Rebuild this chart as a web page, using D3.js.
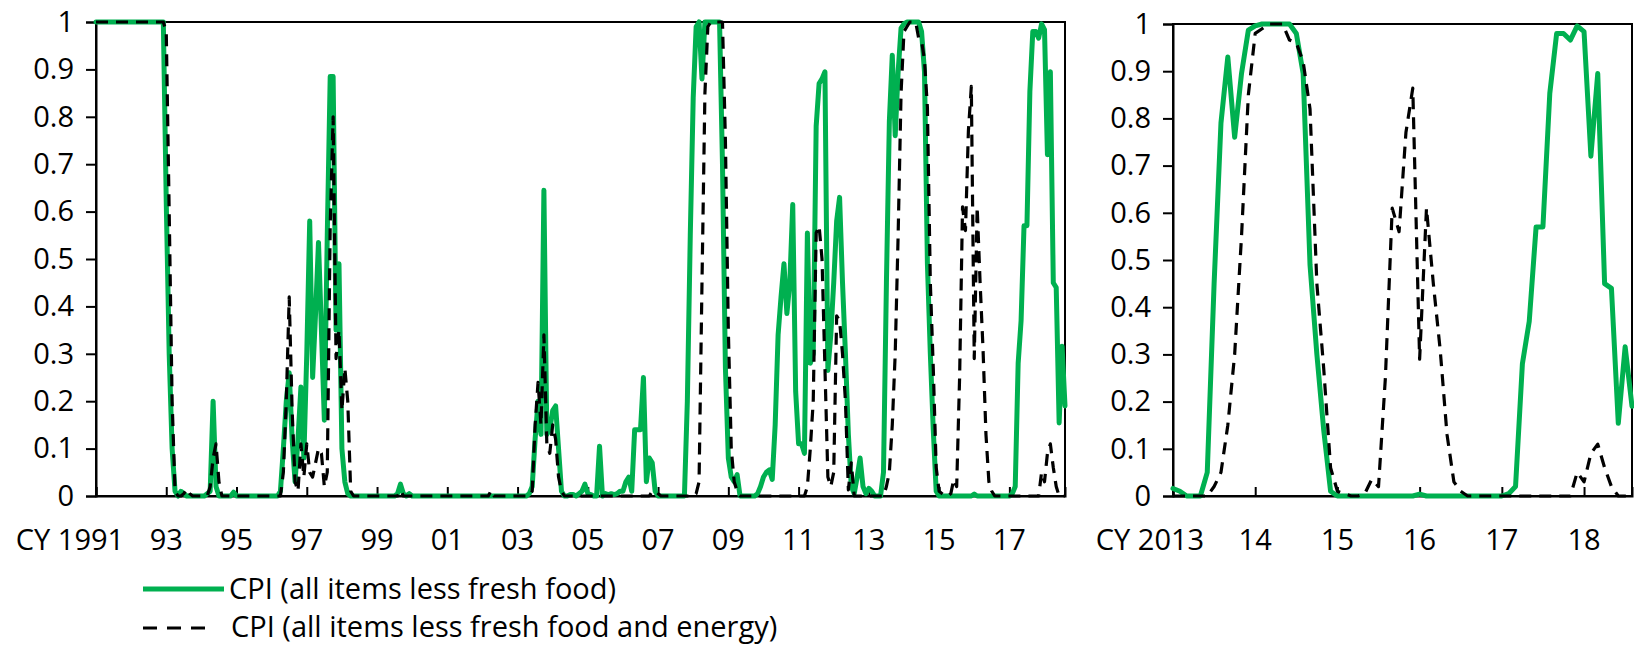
<!DOCTYPE html>
<html><head><meta charset="utf-8">
<script src="https://cdn.jsdelivr.net/npm/d3@7"></script>
<style>
body{margin:0;background:#fff}
svg text{font-family:"Open Sans","Noto Sans",sans-serif;fill:#000}
</style></head><body><svg id="c" width="1634" height="645"></svg>
<script>
// Monthly observations, January 1991 onward (index 0 = Jan 1991)
const startYear = 1991;
const lessFreshFood = [
 1,1,1,1,1,1,1,1,1,1,1,1,                                  // 1991
 1,1,1,1,1,1,1,1,1,1,1,1,                                  // 1992
 0.62,0.3,0.1,0.01,0,0.01,0.005,0,0,0,0,0,                 // 1993
 0,0,0.005,0.01,0.2,0.02,0,0,0,0,0,0.008,                  // 1994
 0,0,0,0,0,0,0,0,0,0,0,0,                                  // 1995
 0,0,0,0.01,0.1,0.2,0.26,0.12,0.03,0.12,0.23,0.08,         // 1996
 0.3,0.58,0.25,0.385,0.535,0.35,0.16,0.55,0.885,0.885,0.35,0.49, // 1997
 0.1,0.03,0.005,0,0,0,0,0,0,0,0,0,                         // 1998
 0,0,0,0,0,0,0,0.005,0.025,0.005,0,0.005,                  // 1999
 0,0,0,0,0,0,0,0,0,0,0,0,                                  // 2000
 0,0,0,0,0,0,0,0,0,0,0,0,                                  // 2001
 0,0,0,0,0,0,0,0,0,0,0,0,                                  // 2002
 0,0,0,0,0.005,0.02,0.12,0.2,0.13,0.645,0.13,0.14,         // 2003
 0.18,0.19,0.1,0.01,0,0,0.003,0.003,0,0.005,0.01,0.025,    // 2004
 0.005,0.003,0,0,0.105,0,0.005,0.003,0.005,0.003,0.005,0.01, // 2005
 0.01,0.03,0.04,0.01,0.14,0.14,0.14,0.25,0.03,0.08,0.07,0.01, // 2006
 0,0,0,0,0,0,0,0,0,0,0.2,0.55,                             // 2007
 0.84,0.99,1,0.88,1,1,1,1,1,1,0.7,0.27,                    // 2008
 0.08,0.04,0.03,0.045,0,0,0,0,0,0,0.005,0.02,              // 2009
 0.04,0.05,0.055,0.035,0.15,0.34,0.42,0.49,0.385,0.45,0.615,0.22, // 2010
 0.11,0.11,0.09,0.555,0.28,0.3,0.78,0.87,0.88,0.895,0.265,0.34,   // 2011
 0.45,0.58,0.63,0.45,0.3,0.13,0.02,0.005,0.04,0.08,0.02,0.005,    // 2012
 0.016,0.01,0,0,0,0.05,0.45,0.79,0.93,0.76,0.895,0.987,    // 2013
 0.996,1,1,1,1,1,0.98,0.895,0.49,0.3,0.14,0.01,            // 2014
 0,0,0,0,0,0,0,0,0,0,0,0,                                  // 2015
 0.004,0,0,0,0,0,0,0,0,0,0,0,                              // 2016
 0,0.005,0.02,0.28,0.37,0.57,0.57,0.853,0.98,0.98,0.966,0.996, // 2017
 0.984,0.72,0.895,0.45,0.44,0.154,0.316,0.19               // 2018
];
const lessFreshFoodEnergy = [
 1,1,1,1,1,1,1,1,1,1,1,1,                                  // 1991
 1,1,1,1,1,1,1,1,1,1,1,1,                                  // 1992
 0.98,0.6,0.2,0.01,0,0,0.005,0.015,0.005,0,0,0,            // 1993
 0,0,0,0.02,0.08,0.11,0.03,0,0,0,0,0,                      // 1994
 0,0,0,0,0,0,0,0,0,0,0,0,                                  // 1995
 0,0,0,0,0.05,0.2,0.42,0.18,0.03,0.01,0.11,0.04,           // 1996
 0.11,0.05,0.04,0.07,0.1,0.09,0.02,0.05,0.57,0.8,0.29,0.35, // 1997
 0.18,0.27,0.2,0.01,0,0,0,0,0,0,0,0,                       // 1998
 0,0,0,0,0,0,0,0,0.012,0,0,0,                              // 1999
 0,0,0,0,0,0,0,0,0,0,0,0,                                  // 2000
 0,0,0,0,0,0,0,0,0,0,0,0,                                  // 2001
 0,0,0,0.012,0,0,0,0,0,0,0,0,                              // 2002
 0,0,0,0,0,0.01,0.15,0.24,0.15,0.34,0.11,0.09,             // 2003
 0.15,0.12,0.04,0.01,0,0,0,0,0,0,0,0,                      // 2004
 0,0,0,0,0,0,0,0,0,0,0,0,                                  // 2005
 0,0,0,0,0,0,0,0,0,0,0.01,0.01,                            // 2006
 0.005,0,0,0,0,0,0,0,0,0,0,0,                              // 2007
 0,0.005,0.03,0.45,0.85,0.99,1,1,1,1,1,0.75,               // 2008
 0.35,0.1,0.03,0.01,0,0,0,0,0,0,0,0,                       // 2009
 0,0,0,0,0,0,0,0,0,0,0,0,                                  // 2010
 0,0,0,0.02,0.1,0.2,0.555,0.57,0.5,0.27,0.04,0.02,         // 2011
 0.05,0.38,0.37,0.3,0.2,0.013,0.07,0,0,0,0,0,              // 2012
 0,0,0,0,0,0,0.02,0.05,0.15,0.3,0.55,0.85,                 // 2013
 0.98,0.99,1,1,1,0.966,0.96,0.92,0.82,0.45,0.27,0.06,      // 2014
 0.01,0.005,0,0,0.005,0.035,0.02,0.25,0.61,0.56,0.77,0.864, // 2015
 0.29,0.61,0.45,0.31,0.13,0.03,0.01,0,0,0,0,0,             // 2016
 0,0,0,0,0,0,0,0,0,0,0,0.05,                               // 2017
 0.03,0.09,0.11,0.06,0.02,0,0,0                            // 2018
];
const yTicks = [0,0.1,0.2,0.3,0.4,0.5,0.6,0.7,0.8,0.9,1];
const yTickLabels = ["0","0.1","0.2","0.3","0.4","0.5","0.6","0.7","0.8","0.9","1"];
const leftTickYears = [1991,1993,1995,1997,1999,2001,2003,2005,2007,2009,2011,2013,2015,2017];
const leftTickLabels = ["CY 1991","93","95","97","99","01","03","05","07","09","11","13","15","17"];
const rightTickYears = [2013,2014,2015,2016,2017,2018];
const rightTickLabels = ["CY 2013","14","15","16","17","18"];
const seriesNames = ["CPI (all items less fresh food)","CPI (all items less fresh food and energy)"];

const GREEN = "#00b050";
const FS = 29;
const svg = d3.select("#c");
const n = lessFreshFood.length;
const mIdx = yr => (yr - startYear) * 12;

const panels = [
  {x0:96, x1:1065, top:22, bottom:496, from:0, years:leftTickYears, labels:leftTickLabels, firstDx:-26},
  {x0:1173, x1:1632, top:24, bottom:496, from:mIdx(2013), years:rightTickYears, labels:rightTickLabels, firstDx:-23}
];

panels.forEach(p => {
  const x = d3.scaleLinear().domain([p.from, n - 1]).range([p.x0, p.x1]);
  const y = d3.scaleLinear().domain([0, 1]).range([p.bottom, p.top]);
  const g = svg.append("g");

  g.append("rect").attr("x", p.x0).attr("y", p.top)
    .attr("width", p.x1 - p.x0).attr("height", p.bottom - p.top)
    .attr("fill", "none").attr("stroke", "#000").attr("stroke-width", 2);

  const ya = g.append("g").attr("transform", `translate(${p.x0},0)`)
    .call(d3.axisLeft(y).tickValues(yTicks).tickFormat((d,i) => yTickLabels[i]).tickSize(10).tickPadding(12));
  ya.selectAll("path,line").attr("stroke", "#000").attr("stroke-width", 2);
  ya.selectAll("text").attr("font-size", FS).attr("font-family", '"Open Sans","Noto Sans",sans-serif');

  const xa = g.append("g").attr("transform", `translate(0,${p.bottom})`)
    .call(d3.axisBottom(x).tickValues(p.years.map(mIdx)).tickSize(-9).tickFormat(""));
  xa.selectAll("path,line").attr("stroke", "#000").attr("stroke-width", 2);

  g.selectAll("text.xl").data(p.years).join("text").attr("class", "xl")
    .attr("x", (d, i) => x(mIdx(d)) + (i === 0 ? p.firstDx : 0))
    .attr("y", 550).attr("text-anchor", "middle").attr("font-size", FS)
    .text((d, i) => p.labels[i]);

  const idx = d3.range(p.from, n);
  const line = data => d3.line().x(i => x(i)).y(i => y(data[i])).curve(d3.curveLinear)(idx);

  g.append("path").attr("d", line(lessFreshFood)).attr("fill", "none")
    .attr("stroke", GREEN).attr("stroke-width", 5).attr("stroke-linejoin", "round").attr("stroke-linecap", "round");
  g.append("path").attr("d", line(lessFreshFoodEnergy)).attr("fill", "none")
    .attr("stroke", "#000").attr("stroke-width", 3.2).attr("stroke-dasharray", "12,8").attr("stroke-linejoin", "round");
});

const lg = svg.append("g");
lg.append("line").attr("x1", 143).attr("x2", 224).attr("y1", 589).attr("y2", 589)
  .attr("stroke", GREEN).attr("stroke-width", 5);
lg.append("text").attr("x", 229).attr("y", 589).attr("dy", "0.35em").attr("font-size", FS).text(seriesNames[0]);
lg.append("line").attr("x1", 143).attr("x2", 208).attr("y1", 628).attr("y2", 628)
  .attr("stroke", "#000").attr("stroke-width", 3.2).attr("stroke-dasharray", "14,10");
lg.append("text").attr("x", 231).attr("y", 627).attr("dy", "0.35em").attr("font-size", FS).text(seriesNames[1]);
</script></body></html>
